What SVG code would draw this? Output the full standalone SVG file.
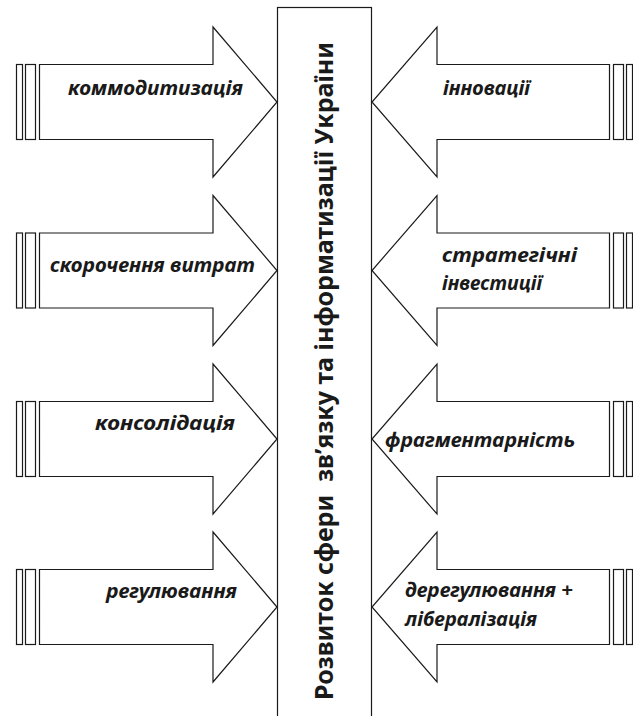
<svg xmlns="http://www.w3.org/2000/svg" width="633" height="716" viewBox="0 0 633 716">
<style>
.shape{fill:#fff;stroke:#1a1a1a;stroke-width:1.2;stroke-linejoin:miter}
.lbl{font-family:"Noto Sans","Open Sans","DejaVu Sans",sans-serif;font-weight:bold;font-style:italic;font-size:19px;fill:#1a1a1a}
.title{font-family:"Noto Sans","Open Sans","DejaVu Sans",sans-serif;font-weight:bold;font-size:25px;fill:#1a1a1a}
</style>
<rect width="633" height="716" fill="#fff"/>
<g id="center">
<rect class="shape" x="277.5" y="7.5" width="94" height="720"/>
<text class="title" xml:space="preserve" transform="translate(333,700) rotate(-90)" textLength="658" lengthAdjust="spacingAndGlyphs">Розвиток сфери  зв’язку та інформатизації України</text>
</g>
<g id="connectors">
<g id="left1">
<rect class="shape" x="16.5" y="64.5" width="6" height="75"/>
<rect class="shape" x="25.5" y="64.5" width="10" height="75"/>
<polygon class="shape" points="39.5,64.5 213,64.5 213,27 277,102 213,177 213,139.5 39.5,139.5"/>
<text class="lbl" x="68" y="95" textLength="175" lengthAdjust="spacingAndGlyphs">коммодитизація</text>
</g>
<g id="left2">
<rect class="shape" x="16.5" y="233" width="6" height="75"/>
<rect class="shape" x="25.5" y="233" width="10" height="75"/>
<polygon class="shape" points="39.5,233 213,233 213,195.5 277,270.5 213,345.5 213,308 39.5,308"/>
<text class="lbl" x="50" y="272" textLength="205" lengthAdjust="spacingAndGlyphs">скорочення витрат</text>
</g>
<g id="left3">
<rect class="shape" x="16.5" y="401.5" width="6" height="75"/>
<rect class="shape" x="25.5" y="401.5" width="10" height="75"/>
<polygon class="shape" points="39.5,401.5 213,401.5 213,364 277,439 213,514 213,476.5 39.5,476.5"/>
<text class="lbl" x="95" y="430" textLength="140" lengthAdjust="spacingAndGlyphs">консолідація</text>
</g>
<g id="left4">
<rect class="shape" x="16.5" y="569.5" width="6" height="75"/>
<rect class="shape" x="25.5" y="569.5" width="10" height="75"/>
<polygon class="shape" points="39.5,569.5 213,569.5 213,532 277,607 213,682 213,644.5 39.5,644.5"/>
<text class="lbl" x="106" y="598" textLength="131" lengthAdjust="spacingAndGlyphs">регулювання</text>
</g>
<g id="right1">
<rect class="shape" x="613.5" y="64.5" width="10" height="75"/>
<rect class="shape" x="626.5" y="64.5" width="6" height="75"/>
<polygon class="shape" points="609.5,64.5 437,64.5 437,27 372,102 437,177 437,139.5 609.5,139.5"/>
<text class="lbl" x="443" y="95" textLength="87" lengthAdjust="spacingAndGlyphs">інновації</text>
</g>
<g id="right2">
<rect class="shape" x="613.5" y="233" width="10" height="75"/>
<rect class="shape" x="626.5" y="233" width="6" height="75"/>
<polygon class="shape" points="609.5,233 437,233 437,195.5 372,270.5 437,345.5 437,308 609.5,308"/>
<text class="lbl" x="442" y="262" textLength="135" lengthAdjust="spacingAndGlyphs">стратегічні</text>
<text class="lbl" x="442" y="290" textLength="100" lengthAdjust="spacingAndGlyphs">інвестиції</text>
</g>
<g id="right3">
<rect class="shape" x="613.5" y="401.5" width="10" height="75"/>
<rect class="shape" x="626.5" y="401.5" width="6" height="75"/>
<polygon class="shape" points="609.5,401.5 437,401.5 437,364 372,439 437,514 437,476.5 609.5,476.5"/>
<text class="lbl" x="385" y="447" textLength="190" lengthAdjust="spacingAndGlyphs">фрагментарність</text>
</g>
<g id="right4">
<rect class="shape" x="613.5" y="569.5" width="10" height="75"/>
<rect class="shape" x="626.5" y="569.5" width="6" height="75"/>
<polygon class="shape" points="609.5,569.5 437,569.5 437,532 372,607 437,682 437,644.5 609.5,644.5"/>
<text class="lbl" x="405" y="597" textLength="168" lengthAdjust="spacingAndGlyphs">дерегулювання +</text>
<text class="lbl" x="405" y="626" textLength="132" lengthAdjust="spacingAndGlyphs">лібералізація</text>
</g>
</g>
</svg>
